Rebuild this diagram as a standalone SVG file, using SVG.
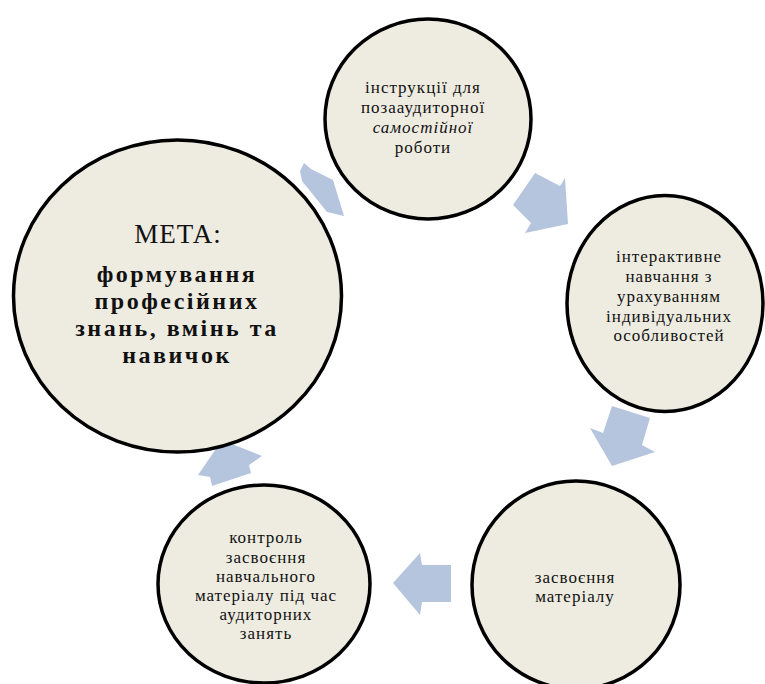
<svg xmlns="http://www.w3.org/2000/svg" width="765" height="684" viewBox="0 0 765 684">
  <style>
    .node { fill: #eeece1; stroke: #000; stroke-width: 3.5; }
    .arrow { fill: #b6c5de; stroke: none; }
    .t { font-family: "Liberation Serif", "Times New Roman", serif; font-size: 17px; letter-spacing: 1px; fill: #111; text-anchor: middle; }
    .big { font-family: "Liberation Serif", "Times New Roman", serif; font-size: 24px; font-weight: bold; letter-spacing: 2.5px; fill: #111; text-anchor: middle; }
    .head { font-family: "Liberation Serif", "Times New Roman", serif; font-size: 27px; fill: #111; text-anchor: middle; letter-spacing: 1px; }
  </style>
  <rect width="765" height="684" fill="#fff"/>

  <!-- cycle arrows, drawn first so the circles overlap them -->
  <g id="connectors">
    <polygon class="arrow" points="304,163 311,169 333,180 344,216 327,212 302,181 300,171"/>
    <polygon class="arrow" points="535,173 560,186 565,178 568,224 525,233 531,223 513,205"/>
    <polygon class="arrow" points="612,406 650,418 642,445 655,452 612,466 590,428 603,433"/>
    <polygon class="arrow" points="393,583 420,553 422,565 451,565 451,602 422,602 420,615"/>
    <polygon class="arrow" points="198,475 222,440 262,456 249,465 251,473 212,486 210,477"/>
  </g>

  <g id="goal">
    <ellipse class="node" cx="177.5" cy="296" rx="164" ry="156"/>
    <text class="head" x="178" y="243">МЕТА:</text>
    <text class="big" x="177" y="282">формування</text>
    <text class="big" x="177" y="309">професійних</text>
    <text class="big" x="177" y="336">знань, вмінь та</text>
    <text class="big" x="177" y="363">навичок</text>
  </g>

  <g id="instructions">
    <ellipse class="node" cx="428" cy="119" rx="103" ry="100"/>
    <text class="t" x="423" y="93">інструкції для</text>
    <text class="t" x="423" y="113">позааудиторної</text>
    <text class="t" x="423" y="133" font-style="italic">самостійної</text>
    <text class="t" x="423" y="153">роботи</text>
  </g>

  <g id="interactive">
    <ellipse class="node" cx="665" cy="303.5" rx="98" ry="108"/>
    <text class="t" x="669" y="262">інтерактивне</text>
    <text class="t" x="669" y="282">навчання з</text>
    <text class="t" x="669" y="302">урахуванням</text>
    <text class="t" x="669" y="322">індивідуальних</text>
    <text class="t" x="669" y="341">особливостей</text>
  </g>

  <g id="mastery">
    <ellipse class="node" cx="576" cy="585" rx="104" ry="104"/>
    <text class="t" x="575" y="583">засвоєння</text>
    <text class="t" x="575" y="602">матеріалу</text>
  </g>

  <g id="control">
    <ellipse class="node" cx="264" cy="584" rx="106" ry="99"/>
    <text class="t" x="266" y="543">контроль</text>
    <text class="t" x="266" y="562.5">засвоєння</text>
    <text class="t" x="266" y="582">навчального</text>
    <text class="t" x="266" y="601">матеріалу під час</text>
    <text class="t" x="266" y="620">аудиторних</text>
    <text class="t" x="266" y="639">занять</text>
  </g>
</svg>
